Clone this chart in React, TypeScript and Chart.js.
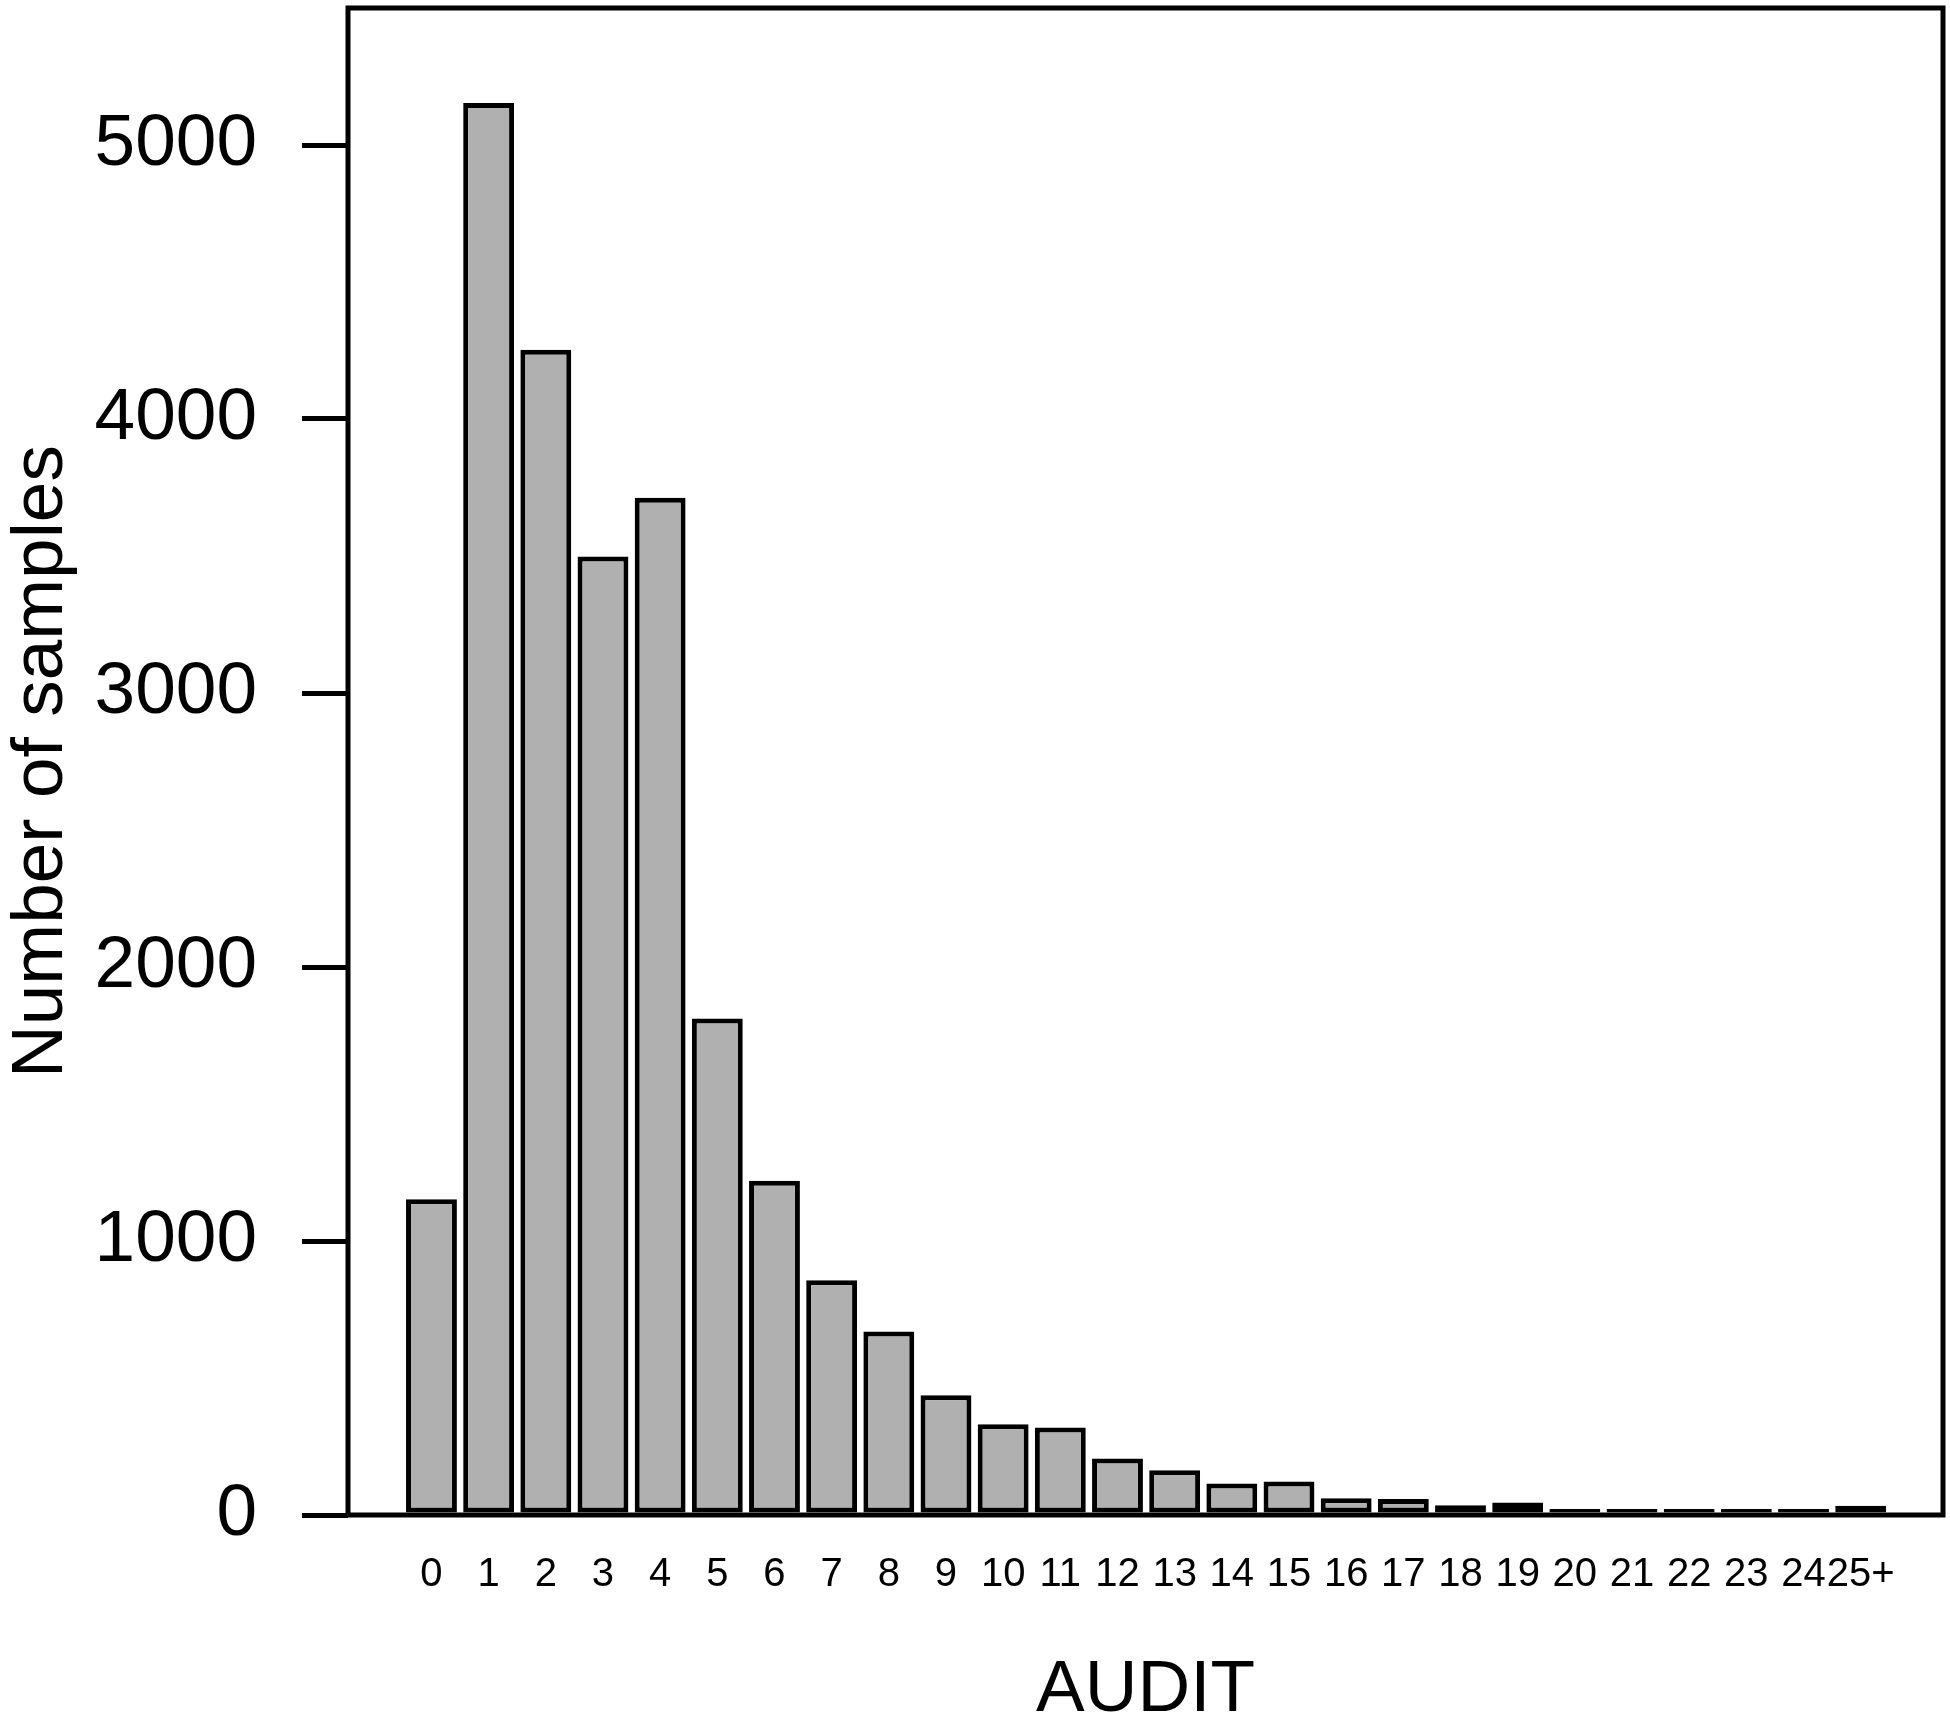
import React, { useEffect, useRef } from 'react';
import { Chart, registerables } from 'chart.js';

Chart.register(...registerables);

const categories = ['0', '1', '2', '3', '4', '5', '6', '7', '8', '9', '10', '11', '12', '13', '14', '15', '16', '17', '18', '19', '20', '21', '22', '23', '24', '25+'];
const counts = [1152, 5153, 4253, 3498, 3713, 1812, 1220, 857, 670, 437, 331, 319, 206, 163, 115, 122, 61, 58, 36, 46, 22, 19, 13, 15, 9, 34];
const yTicks = [0, 1000, 2000, 3000, 4000, 5000];
const xTitle = 'AUDIT';
const yTitle = 'Number of samples';

const FONT = '"Liberation Sans", Arial, Helvetica, sans-serif';

export default function App() {
  const ref = useRef<HTMLCanvasElement>(null);

  useEffect(() => {
    if (!ref.current) return;
    const frame = {
      id: 'frame',
      afterDatasetsDraw(chart: any) {
        const { ctx, chartArea: a } = chart;
        ctx.save();
        ctx.strokeStyle = '#000';
        ctx.lineWidth = 5;
        ctx.lineJoin = 'miter';
        ctx.strokeRect(a.left, a.top, a.right - a.left, a.bottom - a.top);
        ctx.restore();
      },
    };

    const chart = new Chart(ref.current, {
      type: 'bar',
      data: {
        datasets: [
          {
            data: counts.map((y, i) => ({ x: i, y })),
            backgroundColor: '#b0b0b0',
            borderColor: '#000',
            borderWidth: 5,
            borderSkipped: false,
            categoryPercentage: 1,
            barPercentage: 0.89,
            minBarLength: 6,
          },
        ],
      },
      options: {
        responsive: false,
        animation: false,
        devicePixelRatio: 1,
        layout: { padding: { left: 0, top: 8, right: 7, bottom: 0 } },
        plugins: {
          legend: { display: false },
          tooltip: { enabled: false },
          title: { display: false },
        },
        scales: {
          x: {
            type: 'linear',
            offset: false,
            min: -1.46,
            max: 26.44,
            grid: { display: false, offset: false },
            border: { display: false },
            afterBuildTicks: (axis: any) => {
              axis.ticks = categories.map((_, i) => ({ value: i }));
            },
            afterFit: (axis: any) => {
              axis.height = 210;
              axis.paddingLeft = 0;
              axis.paddingRight = 0;
            },
            ticks: {
              autoSkip: false,
              maxRotation: 0,
              minRotation: 0,
              padding: 28,
              color: '#000',
              font: { family: FONT, size: 40 },
              callback: (_v: any, i: number) => categories[i],
            },
            title: {
              display: true,
              text: xTitle,
              color: '#000',
              font: { family: FONT, size: 73, lineHeight: 0.93 },
              padding: 0,
            },
          },
          y: {
            min: 0,
            max: 5500,
            grid: {
              display: true,
              drawOnChartArea: false,
              drawTicks: true,
              tickLength: 46,
              tickWidth: 5,
              lineWidth: 5,
              tickColor: '#000',
              color: '#000',
            },
            border: { display: false },
            afterBuildTicks: (axis: any) => {
              axis.ticks = yTicks.map((v) => ({ value: v }));
            },
            afterFit: (axis: any) => {
              axis.width = 348;
              axis.paddingTop = 0;
              axis.paddingBottom = 0;
            },
            ticks: {
              padding: 45,
              color: '#000',
              font: { family: FONT, size: 73 },
              callback: (v: any) => String(v),
            },
            title: {
              display: true,
              text: yTitle,
              color: '#000',
              font: { family: FONT, size: 73, lineHeight: 1.15 },
              padding: 0,
            },
          },
        },
      },
      plugins: [frame],
    } as any);

    return () => chart.destroy();
  }, []);

  return (
    <div style={{ position: 'fixed', left: 0, top: 0, width: 1950, height: 1725, background: '#fff' }}>
      <canvas ref={ref} width={1950} height={1725} style={{ display: 'block' }} />
    </div>
  );
}
